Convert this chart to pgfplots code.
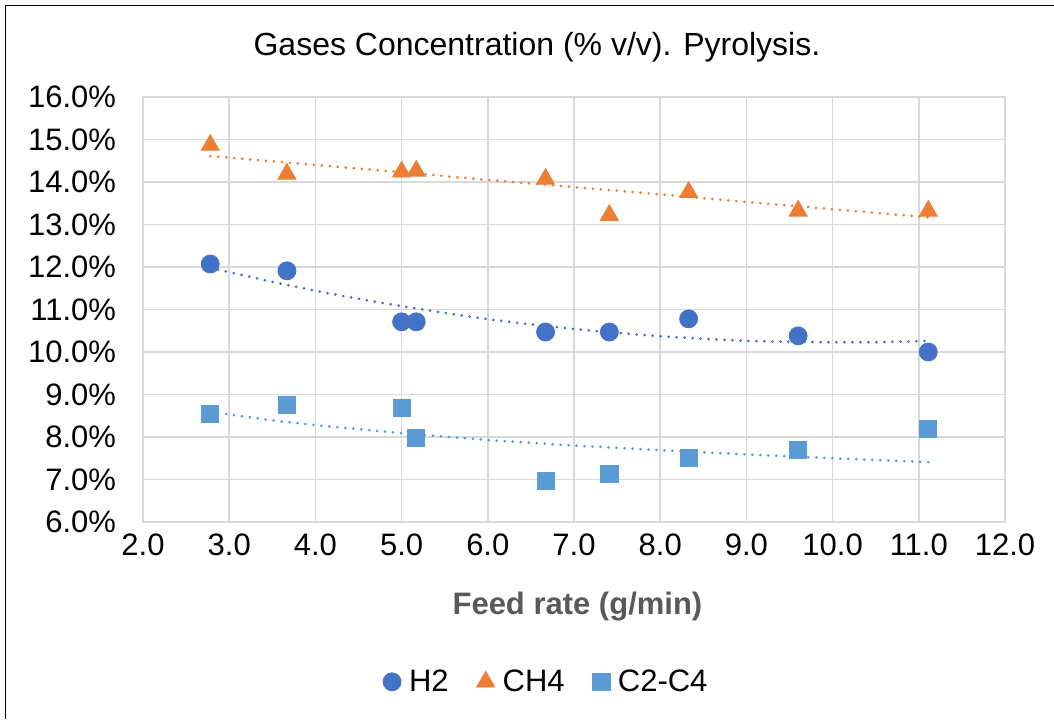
\documentclass[border=0pt]{standalone}
\usepackage{fontspec}
\setmainfont{Liberation Sans}
\usepackage{pgfplots}
\pgfplotsset{compat=1.18}
\definecolor{cH}{HTML}{4472C4}
\definecolor{cM}{HTML}{ED7D31}
\definecolor{cC}{HTML}{5B9BD5}
\definecolor{gridc}{HTML}{D9D9D9}
\definecolor{lab}{HTML}{595959}
\begin{document}
\begin{tikzpicture}
\useasboundingbox (0,0) rectangle (527pt,359.5pt);
\draw[black, line width=0.9pt] (2.75pt,0) -- (2.75pt,356.75pt) -- (527pt,356.75pt);
\begin{axis}[
  at={(71.5pt,98.5pt)}, anchor=south west,
  scale only axis, width=431pt, height=212.5pt,
  xmin=2, xmax=12, ymin=6, ymax=16,
  xtick={2,3,...,12}, ytick={6,7,...,16},
  grid=major, major grid style={draw=gridc, line width=0.75pt},
  axis line style={draw=gridc, line width=0.75pt},
  major tick length=0pt,
  /pgf/number format/assume math mode=true,
  ticklabel style={font=\fontsize{15.5}{18}\selectfont, black},
  xticklabel={\pgfmathprintnumber[fixed,fixed zerofill,precision=1]{\tick}},
  yticklabel={\pgfmathprintnumber[fixed,fixed zerofill,precision=1]{\tick}\%},
  yticklabel style={xshift=-10pt},
  xticklabel style={yshift=-2.5pt},
  title={Gases Concentration (\% v/v). Pyrolysis.},
  title style={at={(0.457,1.088)}, anchor=center, font=\fontsize{16}{19}\selectfont},
  xlabel={Feed rate (g/min)},
  xlabel style={at={(axis description cs:0.504,-0.2)}, anchor=center, font=\fontsize{15.5}{18}\selectfont\bfseries, text=lab},
  legend style={at={(0.469,-0.376)}, anchor=center, draw=none, legend columns=3,
    font=\fontsize{15.5}{18}\selectfont,
    /tikz/every odd column/.append style={column sep=2pt},
    /tikz/every even column/.append style={column sep=12pt}},
  legend cell align=left,
]
% trendlines
\addplot[cH, line width=1.5pt, line cap=round, dash pattern=on 0pt off 4pt, forget plot] coordinates {
(2.78,11.98)(3.5,11.65)(4,11.44)(4.5,11.25)(5,11.08)(5.5,10.92)(6,10.77)(6.5,10.65)(7,10.54)(7.5,10.45)(8,10.37)(8.5,10.31)(9,10.26)(9.5,10.24)(10,10.23)(10.5,10.23)(11.11,10.26)};
\addplot[cM, line width=1.5pt, line cap=round, dash pattern=on 0pt off 4pt, forget plot] coordinates {
(2.78,14.61)(4,14.40)(5,14.23)(6,14.05)(7,13.88)(8,13.71)(9,13.53)(10,13.36)(11.11,13.17)};
\addplot[cC, line width=1.5pt, line cap=round, dash pattern=on 0pt off 4pt, forget plot] coordinates {
(2.78,8.59)(3,8.53)(3.5,8.39)(4,8.28)(5,8.09)(6,7.93)(7,7.80)(8,7.69)(9,7.59)(10,7.50)(11.11,7.41)};
% data
\addplot[only marks, mark=*, mark size=4.5pt, cH, mark options={draw=cH, fill=cH}] coordinates {
(2.78,12.07)(3.67,11.91)(5.00,10.71)(5.17,10.71)(6.67,10.47)(7.41,10.47)(8.33,10.78)(9.60,10.38)(11.11,10.00)};
\addlegendentry{H2}
\addplot[only marks, mark=triangle*, mark size=5.2pt, cM, mark options={draw=cM, fill=cM}] coordinates {
(2.78,14.87)(3.67,14.19)(5.00,14.24)(5.17,14.26)(6.67,14.07)(7.41,13.22)(8.33,13.76)(9.60,13.32)(11.11,13.32)};
\addlegendentry{CH4}
\addplot[only marks, mark=square*, mark size=4.3pt, cC, mark options={draw=cC, fill=cC}] coordinates {
(2.78,8.54)(3.67,8.75)(5.00,8.68)(5.17,7.98)(6.67,6.96)(7.41,7.13)(8.33,7.51)(9.60,7.69)(11.11,8.19)};
\addlegendentry{C2-C4}
\end{axis}
\end{tikzpicture}
\end{document}
